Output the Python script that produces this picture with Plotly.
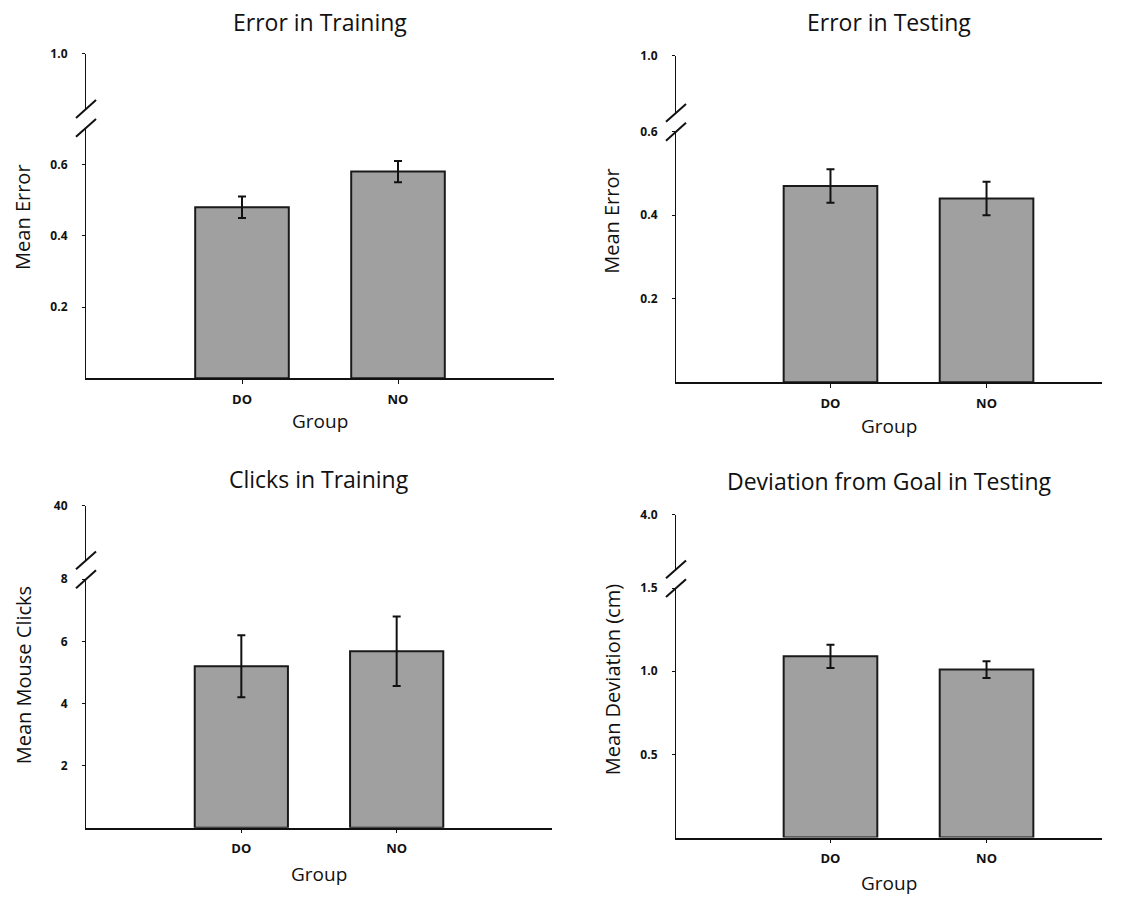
import plotly.graph_objects as go

W, H = 1132, 897

# ---------------- data ----------------
groups = ["DO", "NO"]

train_error = [0.48, 0.58]
train_error_se = [0.03, 0.03]

test_error = [0.47, 0.44]
test_error_se = [0.04, 0.04]

train_clicks = [5.2, 5.68]
train_clicks_se = [1.0, 1.12]

test_dev = [1.09, 1.01]
test_dev_se = [0.07, 0.05]

titles = ["Error in Training", "Error in Testing", "Clicks in Training", "Deviation from Goal in Testing"]
ytitles = ["Mean Error", "Mean Error", "Mean Mouse Clicks", "Mean Deviation (cm)"]

low_ticks = [[0.2, 0.4, 0.6], [0.2, 0.4, 0.6], [2, 4, 6, 8], [0.5, 1.0, 1.5]]
low_ticktext = [["0.2", "0.4", "0.6"], ["0.2", "0.4", "0.6"], ["2", "4", "6", "8"], ["0.5", "1.0", "1.5"]]
top_tick = [1.0, 1.0, 40, 4.0]
top_ticktext = ["1.0", "1.0", "40", "4.0"]

values = [train_error, test_error, train_clicks, test_dev]
errors = [train_error_se, test_error_se, train_clicks_se, test_dev_se]

# ---------------- geometry (pixels) ----------------
panels = [
    dict(x0=86, x1=554, xr=[-1, 2], yz=373, ylt=120, yub=101, yut=45, low_top=0.703, up_lo=0.9,
         t_y=13, g_y=416, yt_x=23, yt_y=211),
    dict(x0=676, x1=1102, xr=[-0.99, 1.74], yz=377, ylt=124, yub=105, yut=47, low_top=0.6, up_lo=0.9,
         t_y=13, g_y=421, yt_x=612, yt_y=215),
    dict(x0=86, x1=552, xr=[-1, 2], yz=827, ylt=576, yub=557, yut=502, low_top=8, up_lo=30,
         t_y=475, g_y=874, yt_x=23, yt_y=673),
    dict(x0=676, x1=1102, xr=[-0.99, 1.74], yz=837, ylt=585, yub=566, yut=511, low_top=1.5, up_lo=3.5,
         t_y=477, g_y=883, yt_x=612, yt_y=678),
]


def fx(px):
    return px / W


def fy(py):
    return 1 - py / H


FONT = "Open Sans"
BAR_FILL = "#a0a0a0"

fig = go.Figure()
layout = dict(
    width=W, height=H, autosize=False,
    margin=dict(l=0, r=0, t=0, b=0),
    paper_bgcolor="white", plot_bgcolor="white",
    showlegend=False,
    font=dict(family=FONT, color="#111"),
)
shapes = []
annotations = []

for i, p in enumerate(panels):
    n = i + 1
    xa = "x" if n == 1 else f"x{n}"
    ya = "y" if n == 1 else f"y{n}"
    yu = f"y{n + 4}"
    xkey = "xaxis" if n == 1 else f"xaxis{n}"
    ykey = "yaxis" if n == 1 else f"yaxis{n}"
    ukey = f"yaxis{n + 4}"

    fig.add_trace(go.Bar(
        x=groups, y=values[i], xaxis=xa, yaxis=ya, width=0.6,
        marker=dict(color=BAR_FILL, line=dict(color="#1a1a1a", width=2)),
        error_y=dict(type="data", array=errors[i], visible=True,
                     color="#111", thickness=2, width=4),
        hoverinfo="skip",
    ))
    fig.add_trace(go.Scatter(x=[], y=[], xaxis=xa, yaxis=yu, hoverinfo="skip"))

    layout[xkey] = dict(
        domain=[fx(p["x0"]), fx(p["x1"])], anchor=ya,
        type="category", range=p["xr"],
        showline=True, linecolor="#111", linewidth=1.5,
        ticks="outside", ticklen=4, tickcolor="#111", tickwidth=1,
        tickfont=dict(family=FONT, size=13, weight="bold"),
        ticklabelstandoff=4,
        showgrid=False, zeroline=False, fixedrange=True,
    )
    layout[ykey] = dict(
        domain=[fy(p["yz"]), fy(p["ylt"])], anchor=xa,
        range=[0, p["low_top"]],
        tickvals=low_ticks[i], ticktext=low_ticktext[i],
        showline=True, linecolor="#111", linewidth=1.2,
        ticks="outside", ticklen=3, tickcolor="#111",
        tickfont=dict(family=FONT, size=12, weight="bold"),
        ticklabelstandoff=12,
        showgrid=False, zeroline=False, fixedrange=True,
    )
    layout[ukey] = dict(
        domain=[fy(p["yub"]), fy(p["yut"])], anchor=xa,
        range=[p["up_lo"], top_tick[i]],
        tickvals=[top_tick[i]], ticktext=[top_ticktext[i]],
        showline=True, linecolor="#111", linewidth=1.2,
        ticks="outside", ticklen=3, tickcolor="#111",
        tickfont=dict(family=FONT, size=12, weight="bold"),
        ticklabelstandoff=12,
        showgrid=False, zeroline=False, fixedrange=True,
    )

    # break marks
    for yb in (p["ylt"], p["yub"]):
        shapes.append(dict(
            type="line", xref="paper", yref="paper",
            x0=fx(p["x0"] - 10), y0=fy(yb + 9), x1=fx(p["x0"] + 10), y1=fy(yb - 9),
            line=dict(color="#111", width=2),
        ))

    xc = (p["x0"] + p["x1"]) / 2
    annotations.append(dict(
        text=titles[i], xref="paper", yref="paper",
        x=fx(xc), y=fy(p["t_y"]), xanchor="center", yanchor="middle",
        showarrow=False, font=dict(family=FONT, size=23, color="#111"),
    ))
    annotations.append(dict(
        text="Group", xref="paper", yref="paper",
        x=fx(xc), y=fy(p["g_y"]), xanchor="center", yanchor="middle",
        showarrow=False, font=dict(family=FONT, size=19, color="#111"),
    ))
    annotations.append(dict(
        text=ytitles[i], xref="paper", yref="paper",
        x=fx(p["yt_x"]), y=fy(p["yt_y"]), xanchor="center", yanchor="middle",
        textangle=-90,
        showarrow=False, font=dict(family=FONT, size=20, color="#111"),
    ))

layout["shapes"] = shapes
layout["annotations"] = annotations
fig.update_layout(**layout)

fig.write_html("out.html")
